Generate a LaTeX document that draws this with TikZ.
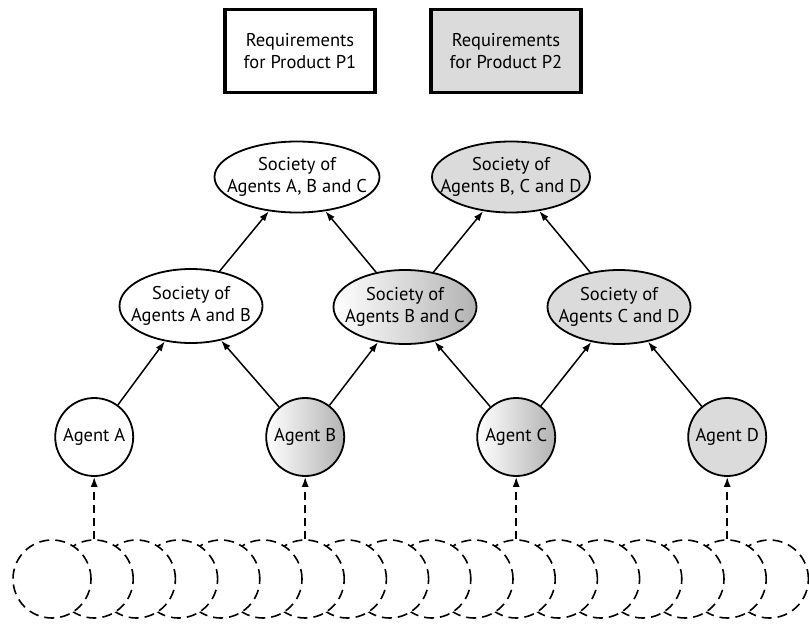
\documentclass[tikz,border=0pt]{standalone}
\usepackage{fontspec}
\setmainfont{PT Sans}
\usetikzlibrary{shapes.geometric, arrows.meta}

\begin{document}
\begin{tikzpicture}[x=1pt, y=-1pt,
	every node/.style={font=\fontsize{18.5}{22}\selectfont},
	req/.style={draw, line width=3.5pt, minimum width=150pt, minimum height=83pt, align=center},
	soc/.style={draw, ellipse, line width=1.8pt, minimum width=143pt, minimum height=74pt, inner xsep=-17pt, inner ysep=-2pt, align=center},
	agent/.style={draw, circle, line width=1.8pt, minimum size=78pt, inner sep=0pt},
	crowd/.style={draw, circle, fill=white, line width=1.6pt, minimum size=78pt, dash pattern=on 10pt off 6pt},
	flat/.style={fill=gray!28},
	grad/.style={left color=white, middle color=gray!15, right color=gray!60},
	link/.style={-{Latex[length=10pt, width=7pt]}, line width=1.5pt},
	feed/.style={link, dash pattern=on 8pt off 5pt}]
	\useasboundingbox (0,0) rectangle (809,624);

					% the crowd of agents, drawn from right to left
					\foreach \i in {18,17,...,1}
						\node (c\i) at ({52+42.2*(\i-1)},579) [crowd] {};

					\node (P1) at (300,51)   [req] {Requirements\\for Product P1};
					\node (P2) at (506,51)   [req, flat] {Requirements\\for Product P2};

					\node (ABC) at (297,177) [soc, minimum width=165pt, minimum height=71pt] {Society of\\Agents A, B and C};
					\node (BCD) at (511,177) [soc, flat, minimum width=158pt, minimum height=71pt] {Society of\\Agents B, C and D};

					\node (AB) at (191,306)  [soc] {Society of\\Agents A and B};
					\node (BC) at (405,307)  [soc, grad] {Society of\\Agents B and C};
					\node (CD) at (619,307)  [soc, flat] {Society of\\Agents C and D};

					\node (A) at (c2|-0,437)  [agent] {Agent A};
					\node (B) at (c7|-0,437)  [agent, grad] {Agent B};
					\node (C) at (c12|-0,437) [agent, grad] {Agent C};
					\node (D) at (c17|-0,437) [agent, flat] {Agent D};

					% Draw an arrow between the nodes
					\draw[link] (A) -- (AB);
					\draw[link] (B) -- (AB);
					\draw[link] (B) -- (BC);
					\draw[link] (C) -- (BC);
					\draw[link] (C) -- (CD);
					\draw[link] (D) -- (CD);
					\draw[link] (AB) -- (ABC);
					\draw[link] (BC) -- (ABC);
					\draw[link] (BC) -- (BCD);
					\draw[link] (CD) -- (BCD);

					\draw[feed] (c2.north) -- (A);
					\draw[feed] (c7.north) -- (B);
					\draw[feed] (c12.north) -- (C);
					\draw[feed] (c17.north) -- (D);
				\end{tikzpicture}
\end{document}
